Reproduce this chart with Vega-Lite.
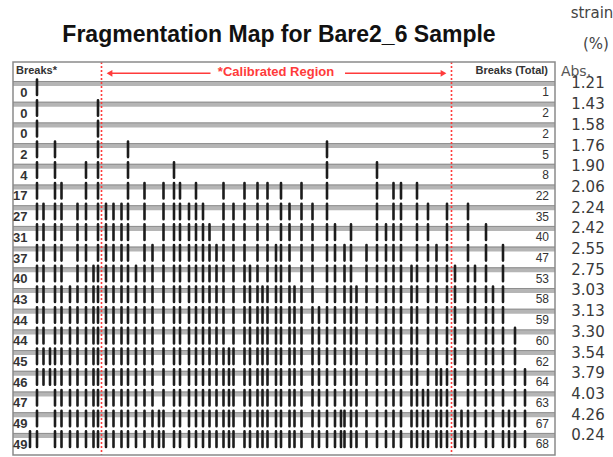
{
  "$schema": "https://vega.github.io/schema/vega-lite/v6.json",
  "width": 613,
  "height": 457,
  "autosize": {"type": "none"},
  "padding": 0,
  "background": "white",
  "config": {"view": {"stroke": null}, "axis": {"disable": true}},
  "datasets": {
    "rows": [
      {"row": 0, "cal": 0, "total": 1, "strain": 1.21},
      {"row": 1, "cal": 0, "total": 2, "strain": 1.43},
      {"row": 2, "cal": 0, "total": 2, "strain": 1.58},
      {"row": 3, "cal": 2, "total": 5, "strain": 1.76},
      {"row": 4, "cal": 4, "total": 8, "strain": 1.90},
      {"row": 5, "cal": 17, "total": 22, "strain": 2.06},
      {"row": 6, "cal": 27, "total": 35, "strain": 2.24},
      {"row": 7, "cal": 31, "total": 40, "strain": 2.42},
      {"row": 8, "cal": 37, "total": 47, "strain": 2.55},
      {"row": 9, "cal": 40, "total": 53, "strain": 2.75},
      {"row": 10, "cal": 43, "total": 58, "strain": 3.03},
      {"row": 11, "cal": 44, "total": 59, "strain": 3.13},
      {"row": 12, "cal": 44, "total": 60, "strain": 3.30},
      {"row": 13, "cal": 45, "total": 62, "strain": 3.54},
      {"row": 14, "cal": 46, "total": 64, "strain": 3.79},
      {"row": 15, "cal": 47, "total": 63, "strain": 4.03},
      {"row": 16, "cal": 49, "total": 67, "strain": 4.26},
      {"row": 17, "cal": 49, "total": 68, "strain": 0.24}
    ],
    "breaks": [
      {"pos": -14.3, "first": 17, "last": 17},
      {"pos": -12.9, "first": 0, "last": 17},
      {"pos": -11.6, "first": 6, "last": 14},
      {"pos": -10.3, "first": 13, "last": 14},
      {"pos": -9.3, "first": 3, "last": 17},
      {"pos": -8.0, "first": 5, "last": 17},
      {"pos": -6.3, "first": 10, "last": 17},
      {"pos": -4.8, "first": 6, "last": 17},
      {"pos": -3.1, "first": 4, "last": 17},
      {"pos": -1.6, "first": 9, "last": 17},
      {"pos": -0.7, "first": 1, "last": 17},
      {"pos": 0.9, "first": 6, "last": 17},
      {"pos": 2.4, "first": 6, "last": 17},
      {"pos": 4.0, "first": 6, "last": 17},
      {"pos": 5.3, "first": 3, "last": 17},
      {"pos": 6.9, "first": 9, "last": 17},
      {"pos": 8.6, "first": 5, "last": 17},
      {"pos": 10.2, "first": 8, "last": 17},
      {"pos": 11.5, "first": 16, "last": 17},
      {"pos": 12.4, "first": 5, "last": 17},
      {"pos": 14.5, "first": 4, "last": 17},
      {"pos": 15.7, "first": 5, "last": 17},
      {"pos": 17.5, "first": 6, "last": 17},
      {"pos": 18.9, "first": 5, "last": 17},
      {"pos": 20.3, "first": 6, "last": 17},
      {"pos": 21.6, "first": 7, "last": 17},
      {"pos": 23.0, "first": 8, "last": 17},
      {"pos": 24.4, "first": 5, "last": 17},
      {"pos": 25.5, "first": 13, "last": 17},
      {"pos": 26.4, "first": 6, "last": 17},
      {"pos": 28.6, "first": 5, "last": 17},
      {"pos": 29.7, "first": 9, "last": 17},
      {"pos": 31.2, "first": 5, "last": 17},
      {"pos": 32.2, "first": 10, "last": 17},
      {"pos": 33.2, "first": 5, "last": 17},
      {"pos": 34.9, "first": 8, "last": 17},
      {"pos": 35.9, "first": 5, "last": 17},
      {"pos": 37.6, "first": 6, "last": 17},
      {"pos": 38.6, "first": 10, "last": 17},
      {"pos": 40.0, "first": 5, "last": 17},
      {"pos": 42.2, "first": 6, "last": 17},
      {"pos": 43.5, "first": 11, "last": 17},
      {"pos": 45.1, "first": 3, "last": 17},
      {"pos": 46.7, "first": 7, "last": 17},
      {"pos": 47.9, "first": 16, "last": 17},
      {"pos": 48.6, "first": 8, "last": 17},
      {"pos": 49.9, "first": 7, "last": 17},
      {"pos": 51.0, "first": 10, "last": 17},
      {"pos": 53.0, "first": 8, "last": 17},
      {"pos": 55.1, "first": 4, "last": 17},
      {"pos": 56.9, "first": 7, "last": 17},
      {"pos": 58.4, "first": 5, "last": 17},
      {"pos": 59.9, "first": 5, "last": 17},
      {"pos": 62.0, "first": 9, "last": 17},
      {"pos": 63.1, "first": 5, "last": 17},
      {"pos": 64.3, "first": 15, "last": 17},
      {"pos": 65.3, "first": 6, "last": 17},
      {"pos": 67.0, "first": 8, "last": 17},
      {"pos": 67.9, "first": 14, "last": 17},
      {"pos": 69.1, "first": 6, "last": 17},
      {"pos": 70.7, "first": 9, "last": 17},
      {"pos": 72.0, "first": 16, "last": 17},
      {"pos": 73.3, "first": 6, "last": 17},
      {"pos": 74.7, "first": 9, "last": 17},
      {"pos": 76.9, "first": 7, "last": 17},
      {"pos": 78.3, "first": 10, "last": 17},
      {"pos": 80.3, "first": 8, "last": 17},
      {"pos": 81.5, "first": 16, "last": 17},
      {"pos": 82.7, "first": 12, "last": 17},
      {"pos": 84.7, "first": 14, "last": 17}
    ],
    "calib": [{"start": 0, "end": 70}]
  },
  "layer": [
    {
      "description": "grey baseline band of each strain step",
      "data": {"name": "rows"},
      "mark": {"type": "rule", "color": "#b5b5b5", "strokeWidth": 5},
      "encoding": {
        "y": {"field": "row", "type": "quantitative", "scale": {"domain": [-4.0338, 18.0435], "reverse": true, "nice": false, "zero": false}},
        "x": {"datum": -17.7, "type": "quantitative", "scale": {"domain": [-20.3, 102.3], "nice": false, "zero": false}},
        "x2": {"datum": 90.7}
      }
    },
    {
      "data": {"name": "rows"},
      "mark": {"type": "rule", "color": "#8e8e8e", "strokeWidth": 1, "yOffset": -2},
      "encoding": {
        "y": {"field": "row", "type": "quantitative"},
        "x": {"datum": -17.7, "type": "quantitative"},
        "x2": {"datum": 90.7}
      }
    },
    {
      "description": "each break is repeated on every step from the one where it first appears; the dash period equals the step spacing",
      "data": {"name": "breaks"},
      "mark": {"type": "rule", "color": "#1c1c1c", "strokeWidth": 2.6, "strokeCap": "round", "strokeDash": [15.5, 5.2], "yOffset": -4, "y2Offset": 12},
      "encoding": {
        "x": {"field": "pos", "type": "quantitative"},
        "y": {"field": "first", "type": "quantitative"},
        "y2": {"field": "last"}
      }
    },
    {
      "data": {"name": "calib"},
      "mark": {"type": "rule", "color": "#ff3b3b", "strokeWidth": 1.6, "strokeDash": [2, 2]},
      "encoding": {
        "x": {"field": "start", "type": "quantitative"},
        "y": {"datum": -1.0386, "type": "quantitative"},
        "y2": {"datum": 17.947}
      }
    },
    {
      "data": {"name": "calib"},
      "mark": {"type": "rule", "color": "#ff3b3b", "strokeWidth": 1.6, "strokeDash": [2, 2]},
      "encoding": {
        "x": {"field": "end", "type": "quantitative"},
        "y": {"datum": -1.0386, "type": "quantitative"},
        "y2": {"datum": 17.947}
      }
    },
    {
      "description": "outer frame",
      "data": {"values": [{}]},
      "mark": {"type": "rect", "fillOpacity": 0, "stroke": "#8a8a8a", "strokeWidth": 1.5},
      "encoding": {
        "x": {"datum": -17.7, "type": "quantitative"},
        "x2": {"datum": 90.7},
        "y": {"datum": -1.0386, "type": "quantitative"},
        "y2": {"datum": 17.947}
      }
    },
    {
      "description": "arrow shafts either side of the calibrated-region label",
      "data": {"values": [{}]},
      "mark": {"type": "rule", "color": "#ff3b3b", "strokeWidth": 1.5},
      "encoding": {
        "x": {"datum": 1.5, "type": "quantitative"},
        "x2": {"datum": 21.8},
        "y": {"datum": -0.49, "type": "quantitative"}
      }
    },
    {
      "data": {"values": [{}]},
      "mark": {"type": "rule", "color": "#ff3b3b", "strokeWidth": 1.5},
      "encoding": {
        "x": {"datum": 48.7, "type": "quantitative"},
        "x2": {"datum": 68.5},
        "y": {"datum": -0.49, "type": "quantitative"}
      }
    },
    {
      "data": {"values": [{}]},
      "mark": {"type": "point", "shape": "triangle-left", "filled": true, "color": "#ff3b3b", "size": 45, "opacity": 1},
      "encoding": {
        "x": {"datum": 1.6, "type": "quantitative"},
        "y": {"datum": -0.49, "type": "quantitative"}
      }
    },
    {
      "data": {"values": [{}]},
      "mark": {"type": "point", "shape": "triangle-right", "filled": true, "color": "#ff3b3b", "size": 45, "opacity": 1},
      "encoding": {
        "x": {"datum": 68.4, "type": "quantitative"},
        "y": {"datum": -0.49, "type": "quantitative"}
      }
    },
    {
      "data": {"values": [{}]},
      "mark": {"type": "text", "text": "*Calibrated Region", "font": "Liberation Sans", "fontWeight": "bold", "fontSize": 13, "color": "#ff3b3b", "align": "center", "baseline": "middle"},
      "encoding": {
        "x": {"datum": 34.9, "type": "quantitative"},
        "y": {"datum": -0.55, "type": "quantitative"}
      }
    },
    {
      "data": {"values": [{}]},
      "mark": {"type": "text", "text": "Breaks*", "font": "Liberation Sans", "fontWeight": "bold", "fontSize": 11, "color": "#333333", "align": "left", "baseline": "middle"},
      "encoding": {
        "x": {"datum": -17.1, "type": "quantitative"},
        "y": {"datum": -0.6, "type": "quantitative"}
      }
    },
    {
      "data": {"values": [{}]},
      "mark": {"type": "text", "text": "Breaks (Total)", "font": "Liberation Sans", "fontWeight": "bold", "fontSize": 11, "color": "#333333", "align": "right", "baseline": "middle"},
      "encoding": {
        "x": {"datum": 89.3, "type": "quantitative"},
        "y": {"datum": -0.6, "type": "quantitative"}
      }
    },
    {
      "data": {"values": [{}]},
      "mark": {"type": "text", "text": "Abs.", "font": "DejaVu Sans", "fontSize": 14, "color": "#555555", "align": "center", "baseline": "middle"},
      "encoding": {
        "x": {"datum": 94.9, "type": "quantitative"},
        "y": {"datum": -0.55, "type": "quantitative"}
      }
    },
    {
      "data": {"name": "rows"},
      "mark": {"type": "text", "font": "Liberation Sans Narrow, Liberation Sans", "fontWeight": "bold", "fontSize": 13, "color": "#333333", "align": "right", "baseline": "middle", "dy": 9.5},
      "encoding": {
        "x": {"datum": -14.8, "type": "quantitative"},
        "y": {"field": "row", "type": "quantitative"},
        "text": {"field": "cal", "type": "quantitative"}
      }
    },
    {
      "data": {"name": "rows"},
      "mark": {"type": "text", "font": "Liberation Sans", "fontSize": 12, "color": "#333333", "align": "right", "baseline": "middle", "dy": 9},
      "encoding": {
        "x": {"datum": 89.5, "type": "quantitative"},
        "y": {"field": "row", "type": "quantitative"},
        "text": {"field": "total", "type": "quantitative"}
      }
    },
    {
      "data": {"name": "rows"},
      "mark": {"type": "text", "font": "DejaVu Sans", "fontSize": 15, "color": "#3a3a3a", "align": "center", "baseline": "middle"},
      "encoding": {
        "x": {"datum": 97.3, "type": "quantitative"},
        "y": {"field": "row", "type": "quantitative"},
        "text": {"field": "strain", "type": "quantitative", "format": ".2f"}
      }
    },
    {
      "data": {"values": [{}]},
      "mark": {"type": "text", "text": "strain", "font": "DejaVu Sans", "fontSize": 15, "color": "#444444", "align": "center", "baseline": "middle"},
      "encoding": {
        "x": {"datum": 98.1, "type": "quantitative"},
        "y": {"datum": -3.41, "type": "quantitative"}
      }
    },
    {
      "data": {"values": [{}]},
      "mark": {"type": "text", "text": "(%)", "font": "DejaVu Sans", "fontSize": 15, "color": "#444444", "align": "center", "baseline": "middle"},
      "encoding": {
        "x": {"datum": 98.9, "type": "quantitative"},
        "y": {"datum": -1.91, "type": "quantitative"}
      }
    },
    {
      "data": {"values": [{}]},
      "mark": {"type": "text", "text": "Fragmentation Map for Bare2_6 Sample", "font": "Liberation Sans", "fontWeight": "bold", "fontSize": 23, "color": "#111111", "align": "center", "baseline": "middle"},
      "encoding": {
        "x": {"datum": 35.5, "type": "quantitative"},
        "y": {"datum": -2.34, "type": "quantitative"}
      }
    }
  ]
}
